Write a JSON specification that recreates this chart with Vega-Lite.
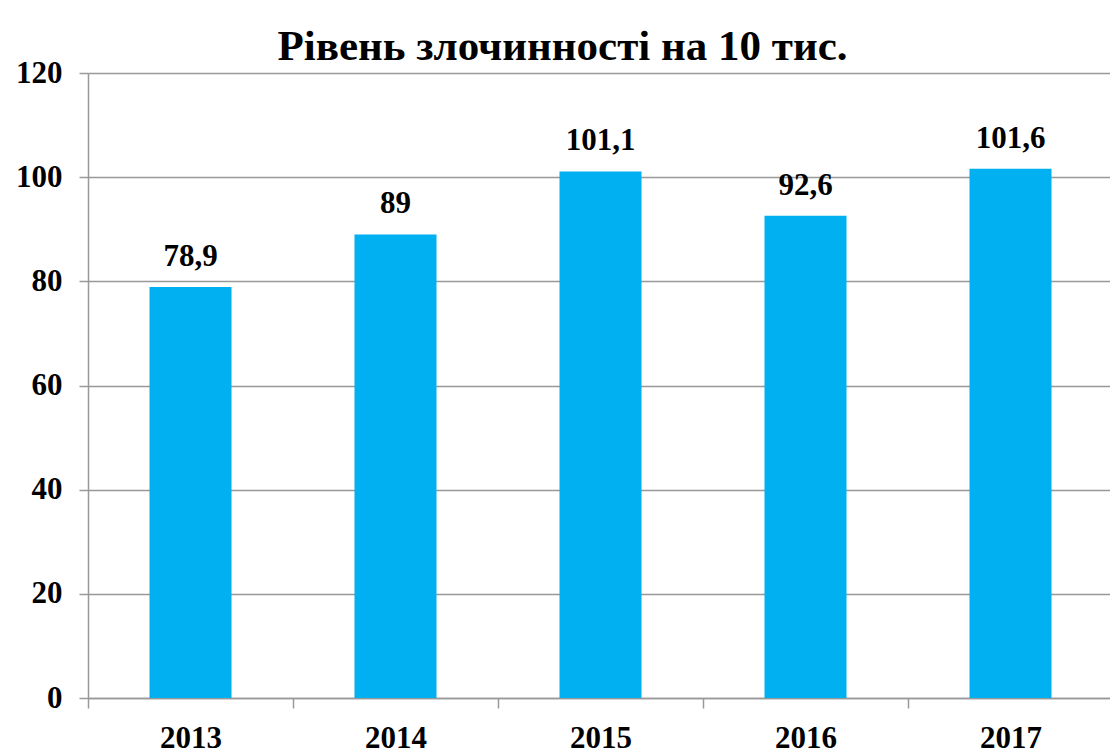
{
  "$schema": "https://vega.github.io/schema/vega-lite/v6.json",
  "autosize": "none",
  "width": 1025,
  "height": 625,
  "padding": {"left": 88, "top": 73, "right": 0, "bottom": 55},
  "background": "white",
  "title": {
    "text": "Рівень злочинності на 10 тис.",
    "font": "Liberation Serif",
    "fontSize": 43,
    "fontWeight": "bold",
    "color": "black",
    "anchor": "middle",
    "baseline": "alphabetic",
    "offset": 10,
    "dx": -38,
    "dy": 56
  },
  "data": {
    "values": [
      {"year": "2013", "value": 78.9, "label": "78,9"},
      {"year": "2014", "value": 89, "label": "89"},
      {"year": "2015", "value": 101.1, "label": "101,1"},
      {"year": "2016", "value": 92.6, "label": "92,6"},
      {"year": "2017", "value": 101.6, "label": "101,6"}
    ]
  },
  "encoding": {
    "x": {
      "field": "year",
      "type": "nominal",
      "title": null,
      "scale": {"paddingInner": 0, "paddingOuter": 0},
      "axis": {
        "labelAngle": 0,
        "labelFont": "Liberation Serif",
        "labelFontSize": 31,
        "labelFontWeight": "bold",
        "labelColor": "black",
        "labelPadding": 15,
        "tickBand": "extent",
        "tickSize": 10,
        "tickColor": "#999999",
        "tickWidth": 1.5,
        "domainColor": "#999999",
        "domainWidth": 1.5,
        "grid": false
      }
    },
    "y": {
      "field": "value",
      "type": "quantitative",
      "title": null,
      "scale": {"domain": [0, 120], "nice": false},
      "axis": {
        "values": [0, 20, 40, 60, 80, 100, 120],
        "labelFont": "Liberation Serif",
        "labelFontSize": 31,
        "labelFontWeight": "bold",
        "labelColor": "black",
        "labelPadding": 17,
        "tickSize": 9,
        "tickColor": "#999999",
        "tickWidth": 1.5,
        "domainColor": "#999999",
        "domainWidth": 1.5,
        "grid": true,
        "gridColor": "#999999",
        "gridWidth": 1.5
      }
    }
  },
  "layer": [
    {"mark": {"type": "bar", "color": "#00B0F0", "width": {"band": 0.4}}},
    {
      "mark": {
        "type": "text",
        "font": "Liberation Serif",
        "fontSize": 31,
        "fontWeight": "bold",
        "color": "black",
        "baseline": "alphabetic",
        "dy": -21
      },
      "encoding": {"text": {"field": "label"}}
    }
  ],
  "config": {"view": {"stroke": null}}
}
